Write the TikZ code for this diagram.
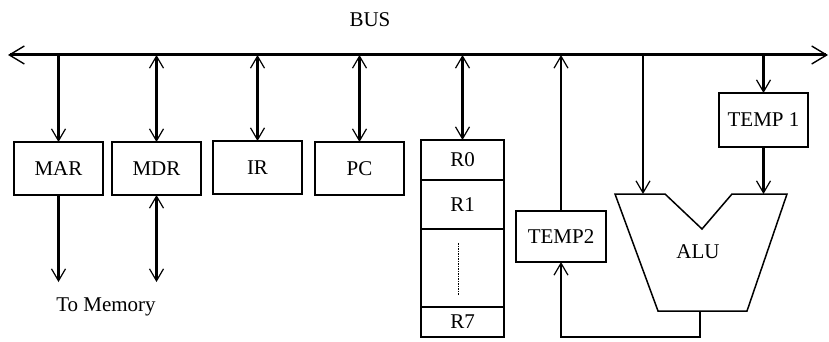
\documentclass[tikz,border=0pt]{standalone}
\usepackage{fontspec}
\setmainfont{Liberation Serif}
\usetikzlibrary{arrows.meta,positioning}

\begin{document}
\begin{tikzpicture}[
    x=1pt, y=-1pt,
    >={Straight Barb[length=12pt,width=14pt,line width=1.2pt]},
    busTip/.tip={Straight Barb[length=15pt,width=18pt,line width=1.4pt]},
    every node/.style={font=\fontsize{21}{23}\selectfont},
    reg/.style={rectangle, draw, line width=1.7pt, minimum width=89pt, minimum height=53pt, inner sep=0pt, outer sep=0pt},
    cell/.style={rectangle, draw, line width=1.7pt, minimum width=83pt, inner sep=0pt, outer sep=0pt},
    link/.style={line width=2.5pt},
    bus/.style={line width=3pt, busTip-busTip}
]
\useasboundingbox (0,0) rectangle (829,342);

% bus
\coordinate (bus_L) at (8,55);
\coordinate (bus_R) at (828,55);
\draw[bus] (bus_L) -- (bus_R);
\node (BUS) at (370,20) {BUS};

% registers on the bus
\node[reg] (MAR) at (58.5,168.5) {MAR};
\node[reg] (MDR) at (156.5,168.5) {MDR};
\node[reg] (IR)  at (257.5,167.5) {IR};
\node[reg] (PC)  at (359.5,168.5) {PC};

% register file
\node[cell, minimum height=40pt] (R_0) at (462.5,160) {R0};
\node[cell, minimum height=49pt, below=0pt of R_0] (R_1) {R1};
\node[cell, minimum height=78pt, below=0pt of R_1] (R_dots) {};
\node[cell, minimum height=30pt, below=0pt of R_dots] (R_7) {R7};
\draw[line width=1.5pt, densely dotted] ([xshift=-4pt,yshift=-14pt]R_dots.north) -- ([xshift=-4pt,yshift=12pt]R_dots.south);

% temporaries
\node[reg, minimum width=90pt, minimum height=51pt] (TEMP_2) at (561,236.5) {TEMP2};
\node[reg, minimum height=54pt] (TEMP_1) at (763.5,120) {TEMP 1};

% ALU
\coordinate (alu_in1) at (643,194);
\coordinate (alu_in2) at (763.5,194);
\coordinate (alu_out) at (700,311);
\draw[line width=1.5pt] (615,194) -- (665,194) -- (702,229) -- (732,194) -- (787,194) -- (747,311) -- (658,311) -- cycle;
\node (ALU) at (698,252) {ALU};

% memory side
\coordinate (mem_line) at (0,282);
\node (MEM) at (106,307) {To Memory};

\draw[link,->] (MAR.north |- bus_L) -- (MAR.north);
\draw[link,<->] (MDR.north |- bus_L) -- (MDR.north);
\draw[link,<->] (IR.north |- bus_L) -- (IR.north);
\draw[link,<->] (PC.north |- bus_L) -- (PC.north);
\draw[link,<->] (R_0.north |- bus_L) -- (R_0.north);

\draw[link,->] (MAR.south) -- (MAR.south |- mem_line);
\draw[link,<->] (MDR.south) -- (MDR.south |- mem_line);

\draw[link,->] (TEMP_2.north) -- (TEMP_2.north |- bus_L);
\draw[link,->] (alu_in1 |- bus_L) -- (alu_in1);
\draw[link,->] (TEMP_1.north |- bus_L) -- (TEMP_1.north);
\draw[link,->] (TEMP_1.south) -- (alu_in2);
\draw[link,->] (alu_out) -- ++(0,26) -| (TEMP_2.south);

\end{tikzpicture}
\end{document}
